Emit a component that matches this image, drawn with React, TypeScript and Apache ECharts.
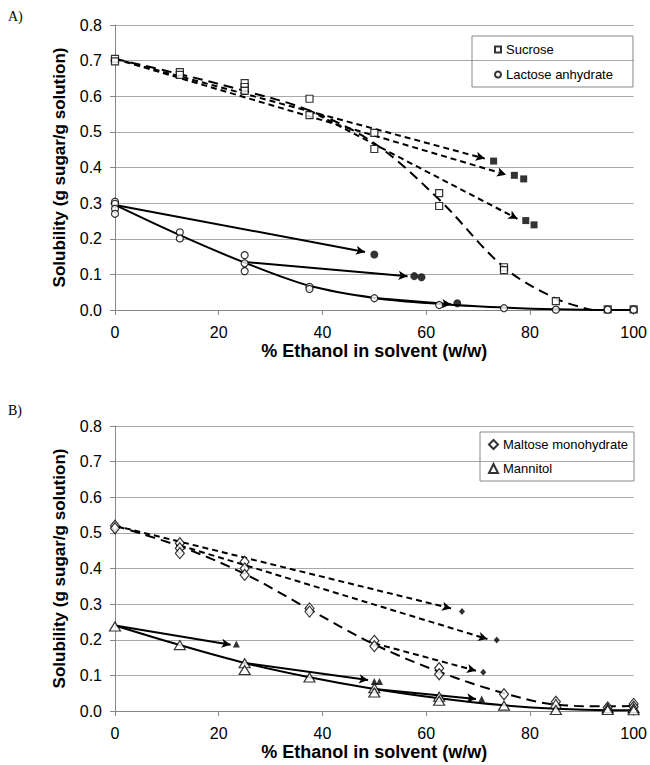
import React, { useEffect, useRef } from "react";
import * as echarts from "echarts";

// ---------- Panel A data ----------
const sucroseX = [0, 0, 12.5, 12.5, 25, 25, 25, 37.5, 37.5, 50, 50, 62.5, 62.5, 75, 75, 85, 95, 100];
const sucroseY = [0.705, 0.698, 0.668, 0.66, 0.637, 0.626, 0.615, 0.593, 0.547, 0.497, 0.452, 0.328, 0.292, 0.12, 0.112, 0.025, 0.002, 0.002];
const sucroseCurveX = [0, 12.5, 25, 37.5, 50, 62.5, 75, 85, 92];
const sucroseCurveY = [0.705, 0.662, 0.615, 0.56, 0.468, 0.31, 0.12, 0.032, 0];
const sucroseEndX = [73, 77, 78.8, 79.2, 80.8];
const sucroseEndY = [0.418, 0.378, 0.368, 0.251, 0.239];
const sucroseArrowStartX = [0, 0, 37.5];
const sucroseArrowStartY = [0.705, 0.705, 0.56];
const sucroseArrowEndX = [71.3, 75.4, 77.6];
const sucroseArrowEndY = [0.425, 0.38, 0.256];

const lactoseX = [0, 0, 0, 0, 12.5, 12.5, 25, 25, 25, 37.5, 37.5, 50, 62.5, 75, 85, 95, 100];
const lactoseY = [0.304, 0.298, 0.284, 0.27, 0.218, 0.201, 0.154, 0.131, 0.109, 0.065, 0.059, 0.033, 0.014, 0.005, 0.001, 0.001, 0.001];
const lactoseCurveX = [0, 12.5, 25, 37.5, 50, 62.5, 75, 85, 95, 100];
const lactoseCurveY = [0.295, 0.21, 0.133, 0.068, 0.034, 0.017, 0.007, 0.002, 0, 0];
const lactoseEndX = [50, 57.7, 59.1, 66];
const lactoseEndY = [0.156, 0.095, 0.092, 0.019];
const lactoseArrowStartX = [0, 25, 50];
const lactoseArrowStartY = [0.295, 0.135, 0.034];
const lactoseArrowEndX = [48.2, 56.4, 64.8];
const lactoseArrowEndY = [0.163, 0.095, 0.016];

// ---------- Panel B data ----------
const maltoseX = [0, 0, 12.5, 12.5, 12.5, 25, 25, 25, 37.5, 37.5, 50, 50, 62.5, 62.5, 75, 85, 95, 100, 100];
const maltoseY = [0.52, 0.513, 0.471, 0.457, 0.443, 0.419, 0.4, 0.382, 0.288, 0.279, 0.197, 0.182, 0.12, 0.103, 0.047, 0.026, 0.01, 0.02, 0.012];
const maltoseCurveX = [0, 12.5, 25, 37.5, 50, 62.5, 75, 85, 95, 100];
const maltoseCurveY = [0.52, 0.462, 0.385, 0.285, 0.187, 0.11, 0.05, 0.018, 0.013, 0.014];
const maltoseEndX = [66.9, 73.6, 71];
const maltoseEndY = [0.279, 0.199, 0.109];
const maltoseArrowStartX = [0, 12.5, 50];
const maltoseArrowStartY = [0.52, 0.465, 0.19];
const maltoseArrowEndX = [64.8, 71.8, 69.6];
const maltoseArrowEndY = [0.288, 0.202, 0.113];

const mannitolX = [0, 12.5, 25, 25, 37.5, 50, 50, 62.5, 62.5, 75, 85, 85, 95, 95, 100, 100];
const mannitolY = [0.237, 0.185, 0.134, 0.115, 0.094, 0.064, 0.052, 0.04, 0.029, 0.015, 0.02, 0.003, 0.008, 0.003, 0.008, 0.002];
const mannitolCurveX = [0, 12.5, 25, 37.5, 50, 62.5, 75, 85, 95, 100];
const mannitolCurveY = [0.24, 0.185, 0.135, 0.095, 0.062, 0.036, 0.016, 0.006, 0.002, 0.002];
const mannitolEndX = [23.4, 50, 51, 70.7];
const mannitolEndY = [0.188, 0.083, 0.083, 0.034];
const mannitolArrowStartX = [0, 25, 50];
const mannitolArrowStartY = [0.24, 0.135, 0.062];
const mannitolArrowEndX = [22.3, 48.8, 69.6];
const mannitolArrowEndY = [0.186, 0.087, 0.034];

const FONT = "'Liberation Sans', Arial, Helvetica, sans-serif";
const AXIS_GRAY = "#868686";

const pts = (xs: number[], ys: number[]) => xs.map((x, i) => [x, ys[i]]);

function openSeries(name: string, xs: number[], ys: number[], symbol: string, size: any, gi: number) {
  return {
    name,
    type: "scatter",
    xAxisIndex: gi,
    yAxisIndex: gi,
    data: pts(xs, ys),
    symbol,
    symbolSize: size,
    itemStyle: { color: "#fff", borderColor: "#000", borderWidth: 1.2 },
    z: 6,
    silent: true,
  };
}

function curveSeries(name: string, xs: number[], ys: number[], gi: number, dashed: boolean) {
  return {
    name,
    type: "line",
    xAxisIndex: gi,
    yAxisIndex: gi,
    data: pts(xs, ys),
    smooth: 0.35,
    symbol: "none",
    lineStyle: { color: "#000", width: 2, type: dashed ? [10, 6] : "solid" },
    z: 3,
    silent: true,
  };
}

function arrowSeries(
  name: string,
  sx: number[], sy: number[], ex: number[], ey: number[],
  endX: number[], endY: number[],
  symbol: string, size: any, gi: number, dashed: boolean
) {
  return {
    name,
    type: "scatter",
    xAxisIndex: gi,
    yAxisIndex: gi,
    data: pts(endX, endY),
    symbol,
    symbolSize: size,
    itemStyle: { color: "#000" },
    z: 5,
    silent: true,
    markLine: {
      silent: true,
      symbol: ["none", "arrow"],
      symbolSize: [7, 9],
      label: { show: false },
      emphasis: { disabled: true },
      lineStyle: { color: "#000", width: 2, type: dashed ? [6, 4] : "solid" },
      data: sx.map((x, i) => [{ coord: [x, sy[i]] }, { coord: [ex[i], ey[i]] }]),
    },
  };
}

function axesFor(gi: number) {
  const x = {
    gridIndex: gi,
    type: "value",
    min: 0,
    max: 100,
    interval: 20,
    name: "% Ethanol in solvent (w/w)",
    nameLocation: "middle",
    nameGap: 32,
    nameTextStyle: { fontSize: 18, fontWeight: "bold", color: "#000", fontFamily: FONT },
    axisLine: { show: true, lineStyle: { color: AXIS_GRAY, width: 1 } },
    axisTick: { show: true, length: 5, lineStyle: { color: AXIS_GRAY } },
    axisLabel: { fontSize: 16, color: "#000", margin: 14, fontFamily: FONT },
    splitLine: { show: false },
  };
  const y = {
    gridIndex: gi,
    type: "value",
    min: 0,
    max: 0.8,
    interval: 0.1,
    name: "Solubility (g sugar/g solution)",
    nameLocation: "middle",
    nameGap: 47,
    nameTextStyle: { fontSize: 17, fontWeight: "bold", color: "#000", fontFamily: FONT },
    axisLine: { show: true, lineStyle: { color: AXIS_GRAY, width: 1 } },
    axisTick: { show: true, length: 5, lineStyle: { color: AXIS_GRAY } },
    axisLabel: {
      fontSize: 16,
      color: "#000",
      margin: 13,
      fontFamily: FONT,
      formatter: (v: number) => v.toFixed(1),
    },
    splitLine: { show: true, lineStyle: { color: "#a8a8a8", width: 1 } },
  };
  return { x, y };
}

export default function App() {
  const ref = useRef<HTMLDivElement>(null);

  useEffect(() => {
    if (!ref.current) return;
    const chart = echarts.init(ref.current, undefined, { renderer: "svg" });
    const a = axesFor(0);
    const b = axesFor(1);

    const option: any = {
      animation: false,
      backgroundColor: "#fff",
      grid: [
        { left: 115, top: 25, width: 522, height: 285 },
        { left: 115, top: 426, width: 522, height: 285 },
      ],
      xAxis: [a.x, b.x],
      yAxis: [a.y, b.y],
      legend: [
        {
          data: ["Sucrose", "Lactose anhydrate"],
          orient: "vertical",
          left: 472,
          top: 36,
          itemWidth: 6,
          itemHeight: 6,
          itemGap: 12,
          padding: [7, 20, 6, 22],
          borderColor: "#888",
          borderWidth: 1,
          selectedMode: false,
          textStyle: { fontSize: 13, color: "#000", fontFamily: FONT },
        },
        {
          data: ["Maltose monohydrate", "Mannitol"],
          orient: "vertical",
          left: 480,
          top: 432,
          itemWidth: 9,
          itemHeight: 9,
          itemGap: 11,
          padding: [6, 6, 6, 8],
          borderColor: "#888",
          borderWidth: 1,
          selectedMode: false,
          textStyle: { fontSize: 13, color: "#000", fontFamily: FONT },
        },
      ],
      graphic: [
        { type: "text", left: 8, top: 9, style: { text: "A)", font: "14px 'Liberation Serif', 'Times New Roman', serif", fill: "#000" } },
        { type: "text", left: 8, top: 403, style: { text: "B)", font: "14px 'Liberation Serif', 'Times New Roman', serif", fill: "#000" } },
      ],
      series: [
        curveSeries("Sucrose fit", sucroseCurveX, sucroseCurveY, 0, true),
        curveSeries("Lactose fit", lactoseCurveX, lactoseCurveY, 0, false),
        arrowSeries("Sucrose diluted", sucroseArrowStartX, sucroseArrowStartY, sucroseArrowEndX, sucroseArrowEndY,
          sucroseEndX, sucroseEndY, "rect", 7, 0, true),
        arrowSeries("Lactose diluted", lactoseArrowStartX, lactoseArrowStartY, lactoseArrowEndX, lactoseArrowEndY,
          lactoseEndX, lactoseEndY, "circle", 8, 0, false),
        openSeries("Sucrose", sucroseX, sucroseY, "rect", 7, 0),
        openSeries("Lactose anhydrate", lactoseX, lactoseY, "circle", 7, 0),

        curveSeries("Maltose fit", maltoseCurveX, maltoseCurveY, 1, true),
        curveSeries("Mannitol fit", mannitolCurveX, mannitolCurveY, 1, false),
        arrowSeries("Maltose diluted", maltoseArrowStartX, maltoseArrowStartY, maltoseArrowEndX, maltoseArrowEndY,
          maltoseEndX, maltoseEndY, "diamond", [6, 7], 1, true),
        arrowSeries("Mannitol diluted", mannitolArrowStartX, mannitolArrowStartY, mannitolArrowEndX, mannitolArrowEndY,
          mannitolEndX, mannitolEndY, "triangle", [7, 7], 1, false),
        openSeries("Maltose monohydrate", maltoseX, maltoseY, "diamond", [9, 11], 1),
        openSeries("Mannitol", mannitolX, mannitolY, "triangle", [11, 9], 1),
      ],
    };
    chart.setOption(option);
    return () => chart.dispose();
  }, []);

  return (
    <div
      ref={ref}
      style={{ position: "absolute", left: 0, top: 0, width: 650, height: 765, background: "#fff" }}
    />
  );
}
